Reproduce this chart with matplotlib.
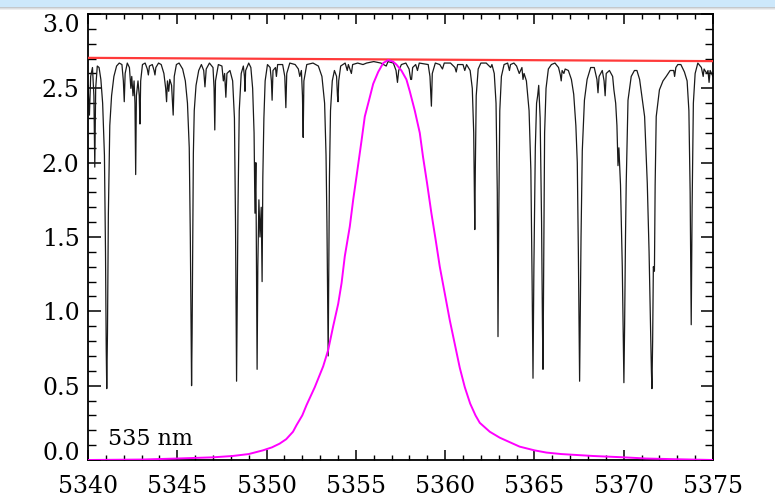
import matplotlib
matplotlib.use("Agg")
import matplotlib.pyplot as plt
from matplotlib.patches import Rectangle
from matplotlib.ticker import MultipleLocator

# ---------------- data ----------------
x_ticks = [5340, 5345, 5350, 5355, 5360, 5365, 5370, 5375]
x_tick_labels = ["5340", "5345", "5350", "5355", "5360", "5365", "5370", "5375"]
y_ticks = [0.0, 0.5, 1.0, 1.5, 2.0, 2.5, 3.0]
y_tick_labels = ["0.0", "0.5", "1.0", "1.5", "2.0", "2.5", "3.0"]
label_text = "535 nm"

# continuum (red line)
cont_wave = [5340.0, 5375.0]
cont_flux = [2.705, 2.683]

# filter transmission profile (magenta)
filt_wave = [5340.0, 5343.0, 5345.0, 5347.0, 5348.1, 5349.0, 5349.8, 5350.3, 5350.73,
             5351.1, 5351.48, 5351.68, 5352.0, 5352.24, 5352.7, 5353.17, 5353.45, 5353.73,
             5354.01, 5354.2, 5354.38, 5354.66, 5354.85, 5355.04, 5355.32, 5355.5, 5355.78,
             5355.97, 5356.25, 5356.53, 5356.81, 5357.08, 5357.27, 5357.55, 5357.83, 5358.02,
             5358.3, 5358.58, 5358.76, 5358.99, 5359.23, 5359.47, 5359.7, 5359.98, 5360.26,
             5360.54, 5360.82, 5361.1, 5361.4, 5361.7, 5361.94, 5362.5, 5363.06, 5363.8, 5364.17,
             5365.0, 5365.67, 5366.5, 5368.28, 5370.0, 5371.26, 5373.0, 5375.0]
filt_trans = [0.0, 0.003, 0.01, 0.018, 0.027, 0.04, 0.065, 0.085, 0.11,
              0.14, 0.19, 0.235, 0.30, 0.37, 0.49, 0.63, 0.74, 0.90,
              1.05, 1.19, 1.37, 1.57, 1.75, 1.91, 2.15, 2.31, 2.44,
              2.53, 2.61, 2.67, 2.69, 2.68, 2.66, 2.62, 2.56, 2.48,
              2.35, 2.20, 2.04, 1.86, 1.66, 1.48, 1.30, 1.12, 0.94,
              0.78, 0.62, 0.49, 0.38, 0.30, 0.25, 0.19, 0.15, 0.11, 0.09,
              0.065, 0.05, 0.04, 0.027, 0.018, 0.01, 0.005, 0.0]

# solar spectrum (black)
spec_wave = [
    5340.00, 5340.08, 5340.15, 5340.25, 5340.33, 5340.38, 5340.43, 5340.52, 5340.62, 5340.72,
    5340.82, 5340.92, 5340.98, 5341.02, 5341.05, 5341.09, 5341.14, 5341.22, 5341.32, 5341.45,
    5341.60, 5341.75, 5341.90, 5341.98, 5342.03, 5342.08, 5342.20, 5342.32, 5342.40, 5342.45,
    5342.52, 5342.58, 5342.63, 5342.67, 5342.71, 5342.80, 5342.87, 5342.91, 5342.95, 5343.05,
    5343.20, 5343.32, 5343.38, 5343.44, 5343.60, 5343.70, 5343.75, 5343.80, 5343.95, 5344.10,
    5344.25, 5344.35, 5344.40, 5344.45, 5344.52, 5344.58, 5344.68, 5344.77, 5344.83, 5344.95,
    5345.10, 5345.30, 5345.45, 5345.57, 5345.67, 5345.73, 5345.77, 5345.80, 5345.83, 5345.87,
    5345.90, 5345.95, 5346.05, 5346.20, 5346.35, 5346.48, 5346.55, 5346.62, 5346.80, 5347.00,
    5347.06, 5347.10, 5347.14, 5347.30, 5347.50, 5347.58, 5347.65, 5347.72, 5347.78, 5347.95,
    5348.10, 5348.20, 5348.26, 5348.30, 5348.32, 5348.35, 5348.40, 5348.47, 5348.58, 5348.70,
    5348.76, 5348.79, 5348.83, 5349.00, 5349.12, 5349.22, 5349.30, 5349.35, 5349.40, 5349.44,
    5349.47, 5349.51, 5349.57, 5349.63, 5349.70, 5349.75, 5349.79, 5349.85, 5349.92, 5350.05,
    5350.20, 5350.27, 5350.31, 5350.36, 5350.50, 5350.55, 5350.62, 5350.90, 5351.02, 5351.08,
    5351.13, 5351.30, 5351.60, 5351.78, 5351.86, 5351.95, 5352.01, 5352.05, 5352.09, 5352.25,
    5352.60, 5352.90, 5353.10, 5353.25, 5353.33, 5353.38, 5353.42, 5353.45, 5353.48, 5353.52,
    5353.58, 5353.68, 5353.80, 5353.92, 5353.97, 5354.00, 5354.04, 5354.15, 5354.40, 5354.52,
    5354.58, 5354.75, 5354.82, 5355.10, 5355.40, 5355.60, 5356.00, 5356.40, 5356.70, 5356.80,
    5357.10, 5357.25, 5357.33, 5357.40, 5357.55, 5357.80, 5357.98, 5358.07, 5358.12, 5358.18,
    5358.35, 5358.45, 5358.55, 5359.05, 5359.15, 5359.23, 5359.28, 5359.45, 5359.70, 5359.85,
    5359.95, 5360.30, 5360.55, 5360.62, 5360.70, 5361.00, 5361.10, 5361.20, 5361.40, 5361.52,
    5361.60, 5361.64, 5361.66, 5361.69, 5361.74, 5361.85, 5362.00, 5362.30, 5362.55, 5362.62,
    5362.75, 5362.85, 5362.92, 5362.96, 5363.00, 5363.06, 5363.15, 5363.30, 5363.50, 5363.60,
    5363.66, 5363.85, 5364.00, 5364.15, 5364.30, 5364.36, 5364.42, 5364.55, 5364.70, 5364.80,
    5364.87, 5364.92, 5364.97, 5365.05, 5365.12, 5365.18, 5365.24, 5365.32, 5365.40, 5365.45,
    5365.48, 5365.52, 5365.57, 5365.65, 5365.78, 5365.95, 5366.15, 5366.35, 5366.45, 5366.50,
    5366.55, 5366.65, 5366.72, 5366.90, 5367.07, 5367.20, 5367.32, 5367.40, 5367.46, 5367.50,
    5367.53, 5367.56, 5367.61, 5367.68, 5367.80, 5367.95, 5368.15, 5368.35, 5368.50, 5368.56,
    5368.62, 5368.80, 5368.90, 5368.96, 5369.02, 5369.20, 5369.38, 5369.45, 5369.55, 5369.62,
    5369.68, 5369.73, 5369.82, 5369.92, 5369.97, 5370.01, 5370.05, 5370.10, 5370.14, 5370.24,
    5370.42, 5370.60, 5370.74, 5370.89, 5371.05, 5371.17, 5371.32, 5371.42, 5371.50, 5371.55,
    5371.58, 5371.62, 5371.66, 5371.72, 5371.76, 5371.82, 5372.00, 5372.20, 5372.38, 5372.60,
    5372.80, 5372.85, 5372.92, 5373.03, 5373.20, 5373.40, 5373.55, 5373.65, 5373.72, 5373.78,
    5373.83, 5373.90, 5374.00, 5374.15, 5374.35, 5374.45, 5374.50, 5374.65, 5374.72, 5374.78,
    5374.84, 5375.00]
spec_flux = [
    2.52, 2.32, 2.58, 2.64, 2.45, 1.97, 2.50, 2.65, 2.64, 2.56,
    2.40, 2.05, 1.40, 0.75, 0.48, 0.85, 1.65, 2.25, 2.45, 2.58,
    2.65, 2.67, 2.66, 2.55, 2.41, 2.60, 2.67, 2.64, 2.50, 2.58,
    2.45, 2.55, 2.40, 1.92, 2.45, 2.55, 2.45, 2.26, 2.55, 2.66,
    2.67, 2.63, 2.59, 2.65, 2.66, 2.62, 2.59, 2.64, 2.67, 2.66,
    2.60, 2.50, 2.41, 2.55, 2.48, 2.56, 2.52, 2.32, 2.58, 2.66,
    2.67, 2.63, 2.55, 2.40, 2.10, 1.50, 0.90, 0.50, 0.85, 1.55,
    2.06, 2.35, 2.52, 2.62, 2.66, 2.62, 2.51, 2.63, 2.67, 2.64,
    2.50, 2.22, 2.55, 2.66, 2.65, 2.55, 2.60, 2.44, 2.60, 2.62,
    2.55, 2.30, 1.60, 0.90, 0.53, 0.95, 1.70, 2.35, 2.60, 2.65,
    2.58, 2.48, 2.62, 2.67, 2.64, 2.50, 2.20, 1.66, 2.00, 1.20,
    0.61, 1.30, 1.75, 1.50, 1.70, 1.20, 1.90, 2.30, 2.55, 2.66,
    2.64, 2.55, 2.42, 2.62, 2.64, 2.58, 2.66, 2.66, 2.58, 2.37,
    2.60, 2.67, 2.66, 2.63, 2.58, 2.62, 2.45, 2.17, 2.55, 2.66,
    2.67, 2.65, 2.58, 2.40, 2.05, 1.60, 1.10, 0.70, 1.20, 1.90,
    2.35, 2.55, 2.62, 2.58, 2.45, 2.41, 2.55, 2.65, 2.67, 2.62,
    2.66, 2.60, 2.66, 2.67, 2.66, 2.67, 2.68, 2.67, 2.65, 2.68,
    2.67, 2.62, 2.54, 2.62, 2.66, 2.67, 2.63, 2.56, 2.56, 2.64,
    2.66, 2.62, 2.67, 2.66, 2.58, 2.38, 2.60, 2.67, 2.66, 2.63,
    2.67, 2.67, 2.64, 2.61, 2.66, 2.66, 2.62, 2.66, 2.62, 2.50,
    2.20, 1.80, 1.55, 1.95, 2.45, 2.63, 2.67, 2.67, 2.64, 2.66,
    2.60, 2.40, 1.80, 0.83, 1.60, 2.35, 2.58, 2.66, 2.67, 2.62,
    2.66, 2.67, 2.65, 2.60, 2.64, 2.56, 2.60, 2.55, 2.35, 1.95,
    1.20, 0.55, 1.30, 2.10, 2.40, 2.45, 2.52, 2.30, 1.60, 0.90,
    0.61, 1.30, 2.20, 2.50, 2.63, 2.66, 2.67, 2.64, 2.59, 2.55,
    2.62, 2.60, 2.63, 2.62, 2.56, 2.46, 2.25, 2.00, 1.40, 0.90,
    0.53, 0.90, 1.50, 2.08, 2.42, 2.56, 2.64, 2.64, 2.56, 2.47,
    2.58, 2.62, 2.55, 2.45, 2.60, 2.62, 2.58, 2.49, 2.40, 2.25,
    1.98, 2.10, 1.85, 1.30, 0.85, 0.52, 0.90, 1.50, 1.86, 2.42,
    2.58, 2.62, 2.62, 2.56, 2.42, 2.31, 1.86, 1.40, 0.90, 0.60,
    0.48, 0.80, 1.30, 1.27, 1.85, 2.31, 2.49, 2.55, 2.58, 2.62,
    2.62, 2.58, 2.64, 2.66, 2.66, 2.61, 2.55, 2.35, 1.80, 0.91,
    1.70, 2.40, 2.60, 2.67, 2.64, 2.58, 2.63, 2.60, 2.62, 2.54,
    2.62, 2.58]

# ---------------- figure ----------------
FONT = ["DejaVu Serif"]
W, H = 775, 500
fig = plt.figure(figsize=(W / 100, H / 100), dpi=100)

# screenshot band at the top
fig.patches.append(Rectangle((0, 1 - 7 / H), 1, 7 / H, transform=fig.transFigure,
                             facecolor="#cde8fb", edgecolor="none", zorder=0))
for i, c in enumerate(["#c4c8cc", "#dcdee0", "#eeeeef"]):
    fig.patches.append(Rectangle((0, 1 - (8 + i) / H), 1, 1 / H, transform=fig.transFigure,
                                 facecolor=c, edgecolor="none", zorder=0))

ax = fig.add_axes([88 / W, 40 / H, 625 / W, 446 / H])

ax.plot(spec_wave, spec_flux, color="#1a1a1a", lw=0.9, zorder=2)
ax.plot(cont_wave, cont_flux, color="#ff3a3a", lw=1.6, zorder=3)
ax.plot(filt_wave, filt_trans, color="#ff00ff", lw=1.4, zorder=4)

ax.set_xlim(5340, 5375)
ax.set_ylim(0, 3)
ax.set_xticks(x_ticks)
ax.set_xticklabels(x_tick_labels, family=FONT, fontsize=17)
ax.set_yticks(y_ticks)
ax.set_yticklabels(y_tick_labels, family=FONT, fontsize=17)
ax.xaxis.set_minor_locator(MultipleLocator(1))
ax.yaxis.set_minor_locator(MultipleLocator(0.1))

ax.tick_params(axis="x", which="major", direction="in", length=7.5, width=1.1,
               top=True, bottom=True, pad=11)
ax.tick_params(axis="x", which="minor", direction="in", length=3.8, width=1.0,
               top=True, bottom=True)
ax.tick_params(axis="y", which="major", direction="in", length=9, width=1.1,
               left=True, right=True, pad=6)
ax.tick_params(axis="y", which="minor", direction="in", length=5.5, width=1.0,
               left=True, right=True)
for s in ax.spines.values():
    s.set_linewidth(1.3)

# end labels of the y axis sit inside the axis range, as in the reference
ylabs = ax.get_yticklabels()
ylabs[0].set_va("baseline")
ylabs[-1].set_va("top")

ax.text(5341.1, 0.1, label_text, family=FONT, fontsize=16, va="baseline", ha="left")

fig.savefig("out.png", dpi=100)
